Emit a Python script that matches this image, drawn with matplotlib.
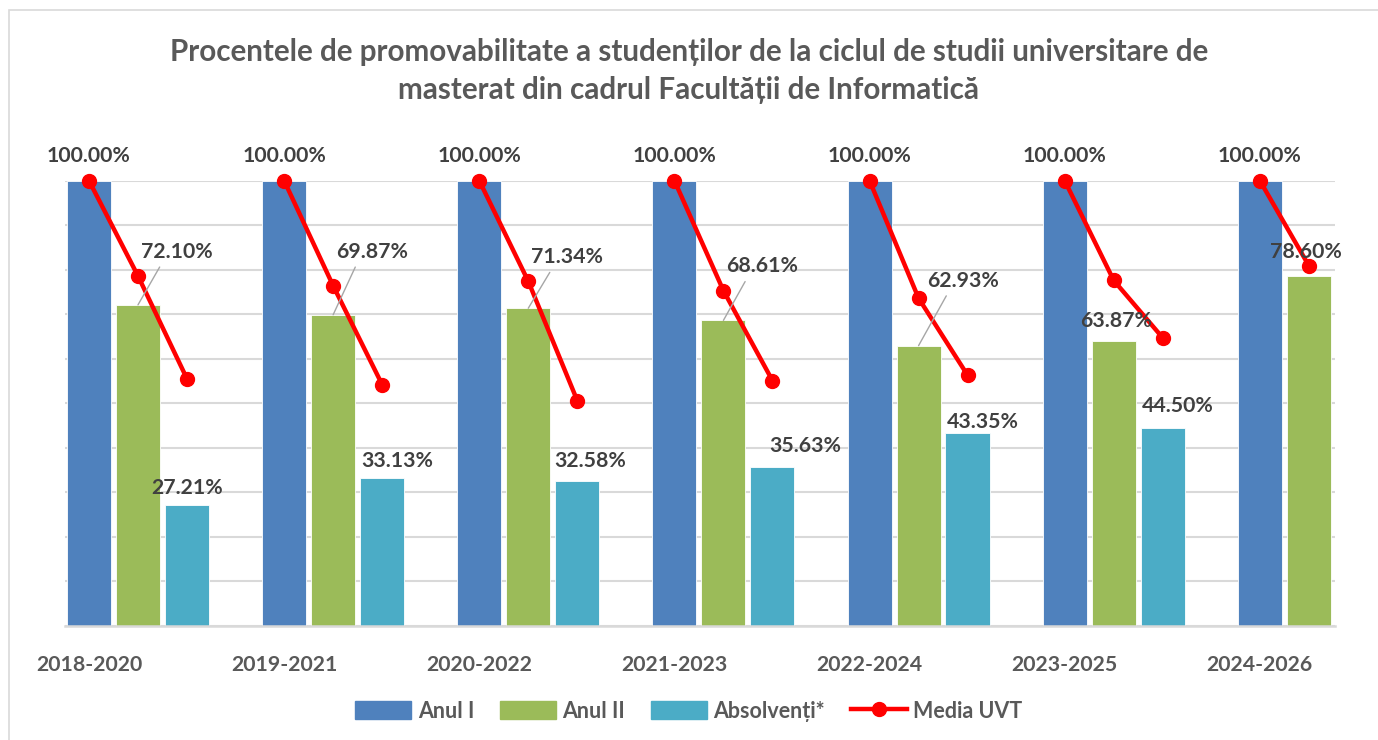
import numpy as np
import matplotlib.pyplot as plt
from matplotlib.lines import Line2D
from matplotlib.patches import Patch, Rectangle

# data (percent)
cohorts = ['2018-2020', '2019-2021', '2020-2022', '2021-2023', '2022-2024', '2023-2025', '2024-2026']
anul_1 = [100.00, 100.00, 100.00, 100.00, 100.00, 100.00, 100.00]
anul_2 = [72.10, 69.87, 71.34, 68.61, 62.93, 63.87, 78.60]
absolventi = [27.21, 33.13, 32.58, 35.63, 43.35, 44.50, np.nan]
# Media UVT, one short line per cohort (Anul I, Anul II, Absolventi)
media_uvt = [
    [100.0, 78.6, 55.5],
    [100.0, 76.4, 54.2],
    [100.0, 77.4, 50.6],
    [100.0, 75.3, 55.1],
    [100.0, 73.6, 56.3],
    [100.0, 77.6, 64.7],
    [100.0, 80.9],
]

# label offsets in pixels (dx, dy) from the bar top
off_2 = [(39, 53), (39, 63), (39, 51), (39, 54), (45, 65), (2, 20), (-3, 24)]
leader_2 = [True, True, True, True, True, False, False]
off_abs = [(0, 17), (15, 17), (13, 20), (33, 21), (15, 11), (15, 22)]

plt.rcParams['font.family'] = ['Lato', 'DejaVu Sans']
c_blue, c_green, c_teal, c_red = '#4F81BD', '#9BBB59', '#4BACC6', '#FF0000'
c_txt, c_lbl = '#595959', '#404040'

W, H = 1378, 740
fig = plt.figure(figsize=(W / 100, H / 100), dpi=100)
ax = fig.add_axes([65 / W, 1 - 625.7 / H, (1335 - 65) / W, 445 / H])

x = np.arange(len(cohorts))
step, bw = 0.251, 0.226
ax.bar(x, anul_1, bw, color=c_blue, edgecolor='white', linewidth=0.6, zorder=2)
ax.bar(x + step, anul_2, bw, color=c_green, edgecolor='white', linewidth=0.6, zorder=2)
ax.bar(x + 2 * step, absolventi, bw, color=c_teal, edgecolor='white', linewidth=0.6, zorder=2)

for i, vals in enumerate(media_uvt):
    xs = x[i] + step * np.arange(len(vals))
    ax.plot(xs, vals, color=c_red, lw=3.2, marker='o', ms=10, zorder=4, clip_on=False)

lbl_kw = dict(textcoords='offset pixels', ha='center', va='center',
              fontsize=15.3, fontweight='bold', color=c_lbl, zorder=5)
for i, v in enumerate(anul_1):
    ax.annotate(f'{v:.2f}%', (x[i], v), xytext=(0, 25), **lbl_kw)
for i, v in enumerate(anul_2):
    kw = dict(lbl_kw)
    if leader_2[i]:
        kw['arrowprops'] = dict(arrowstyle='-', color='#A6A6A6', lw=1,
                                relpos=(0.3, 0), shrinkA=2, shrinkB=0)
    ax.annotate(f'{v:.2f}%', (x[i] + step, v), xytext=off_2[i], **kw)
for i, v in enumerate(absolventi):
    if np.isnan(v):
        continue
    ax.annotate(f'{v:.2f}%', (x[i] + 2 * step, v), xytext=off_abs[i], **lbl_kw)

ax.set_xlim(-0.123, 6.385)
ax.set_ylim(0, 100)
ax.set_yticks(np.arange(0, 101, 10))
ax.yaxis.grid(True, color='#D9D9D9', lw=1.5, zorder=0)
ax.set_yticklabels([])
ax.tick_params(axis='y', length=0)
ax.set_xticks(x)
ax.set_xticklabels(cohorts, fontsize=15.3, fontweight='bold', color=c_txt)
ax.tick_params(axis='x', length=0, pad=21)
for s in ['top', 'right', 'left']:
    ax.spines[s].set_visible(False)
ax.spines['bottom'].set_color('#D9D9D9')
ax.spines['bottom'].set_linewidth(1.8)

fig.text(0.5, 1 - 71 / H, 'Procentele de promovabilitate a studenților de la ciclul de studii universitare de\n'
         'masterat din cadrul Facultății de Informatică', ha='center', va='center',
         fontsize=21.3, fontweight='bold', color=c_txt, linespacing=1.42)

handles = [Patch(color=c_blue), Patch(color=c_green), Patch(color=c_teal),
           Line2D([], [], color=c_red, lw=3.2, marker='o', ms=10)]
fig.legend(handles, ['Anul I', 'Anul II', 'Absolvenți*', 'Media UVT'], loc='center',
           bbox_to_anchor=(0.5, 1 - 711 / H), ncol=4, frameon=False,
           prop=dict(size=15.5, weight='bold'), labelcolor=c_txt,
           handlelength=2.6, handleheight=0.9, handletextpad=0.3, columnspacing=1.2)

fig.patches.append(Rectangle((9 / W, -0.1), 1.2, 1 - 10 / H + 0.1, transform=fig.transFigure,
                             fill=False, edgecolor='#D9D9D9', lw=1.2))

fig.savefig('out.png', dpi=100)
